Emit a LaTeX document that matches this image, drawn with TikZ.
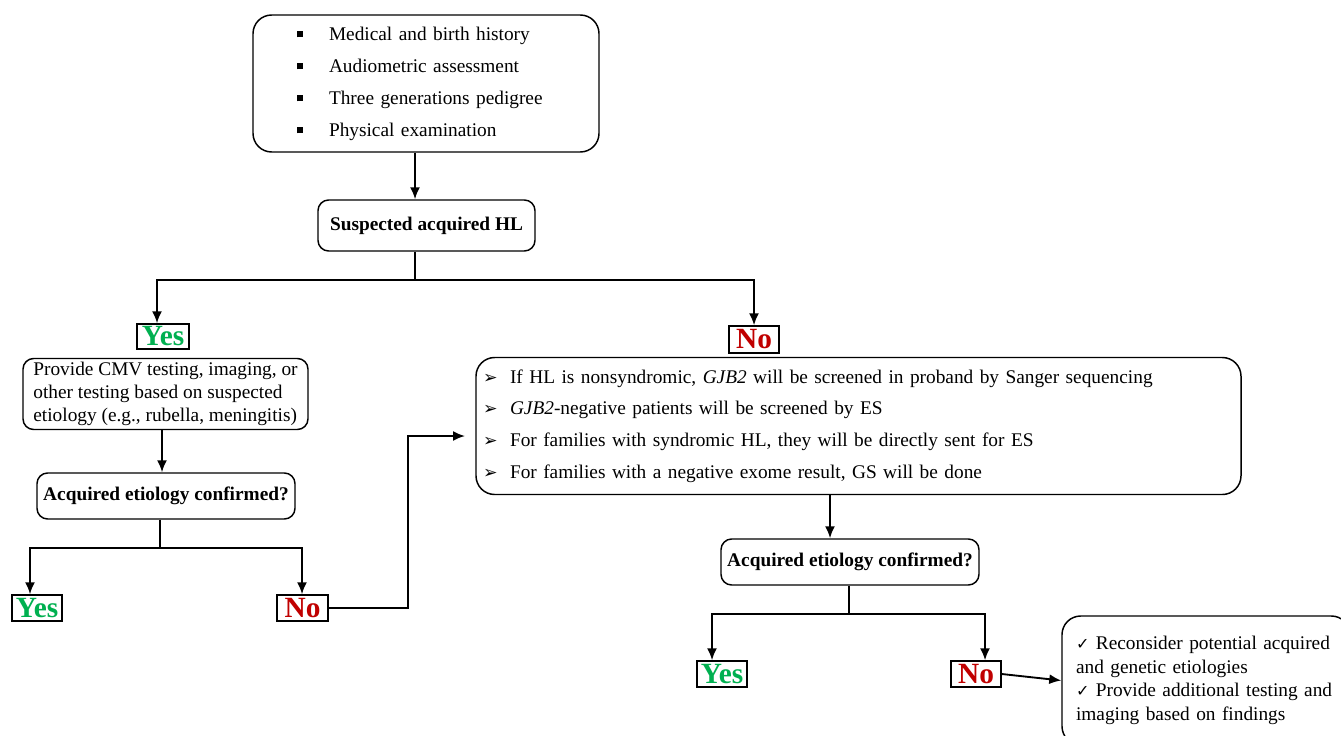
\documentclass[tikz,border=0pt]{standalone}
\usepackage{fontspec}
\setmainfont{Liberation Serif}
\newfontfamily\symfont{DejaVu Sans}
\usetikzlibrary{arrows.meta,calc}
\definecolor{yesgreen}{RGB}{0,176,80}
\definecolor{nored}{RGB}{192,0,0}
\newcommand{\sqbul}{\makebox[24pt][l]{\rule[2pt]{4.5pt}{4.5pt}}}
\newcommand{\arrbul}{\makebox[20.25pt][l]{\symfont\fontsize{13}{13}\selectfont ➢}}
\newcommand{\chk}{{\symfont\fontsize{12}{12}\selectfont ✓}}
\begin{document}
\begin{tikzpicture}[x=0.75pt,y=-0.75pt,
  box/.style={draw, line width=1.1pt, rounded corners=8pt, inner sep=0pt},
  bigbox/.style={box, rounded corners=14pt},
  lab/.style={draw, line width=1.1pt, inner sep=0pt, font=\fontsize{22}{22}\selectfont\bfseries},
  yeslab/.style={lab, text=yesgreen},
  nolab/.style={lab, text=nored},
  arr/.style={line width=1.4pt, -{Latex[length=9pt,width=7.5pt]}},
  ln/.style={line width=1.4pt},
  txt/.style={font=\fontsize{14.5}{24}\selectfont},
  btxt/.style={font=\fontsize{14.5}{17}\selectfont\bfseries}
]
\useasboundingbox (0,0) rectangle (1341,735);
\clip (0,0) rectangle (1341,735);

% nodes
\node[bigbox, txt, align=left, text width=193.5pt, minimum width=259.5pt, minimum height=102.75pt] (top) at (426,83.5)
  {\sqbul Medical and birth history\\ \sqbul Audiometric assessment\\ \sqbul Three generations pedigree\\ \sqbul Physical examination};
\node[box, btxt, minimum width=162.75pt, minimum height=38.25pt] (sus) at (426.5,225.5) {Suspected acquired HL};
\node[yeslab, minimum width=39pt, minimum height=18.75pt] (yes1) at (163,336.5) {Yes};
\node[nolab, minimum width=37.5pt, minimum height=20.25pt] (no1) at (754,339.5) {No};
\node[box, font=\fontsize{14.5}{17.25}\selectfont, align=left, minimum width=213.75pt, minimum height=53.25pt] (cmv) at (165.5,394)
  {Provide CMV testing, imaging, or\\ other testing based on suspected\\ etiology (e.g., rubella, meningitis)};
\node[box, btxt, minimum width=193.5pt, minimum height=34.5pt] (acq1) at (166,496) {Acquired etiology confirmed?};
\node[yeslab, minimum width=37.5pt, minimum height=19.5pt] (yes2) at (37,608) {Yes};
\node[nolab, minimum width=38.25pt, minimum height=19.5pt] (no2) at (302.5,608) {No};
\node[bigbox, font=\fontsize{14.5}{23.8}\selectfont, align=left, text width=563.25pt, minimum width=573.75pt, minimum height=102.75pt] (big) at (858.5,426)
  {\arrbul If HL is nonsyndromic, \textit{GJB2} will be screened in proband by Sanger sequencing\\
   \arrbul \textit{GJB2}-negative patients will be screened by ES\\
   \arrbul For families with syndromic HL, they will be directly sent for ES\\
   \arrbul For families with a negative exome result, GS will be done};
\node[box, btxt, minimum width=193.5pt, minimum height=34.5pt] (acq2) at (850,562) {Acquired etiology confirmed?};
\node[yeslab, minimum width=37.5pt, minimum height=19.5pt] (yes3) at (722,674) {Yes};
\node[nolab, minimum width=37.5pt, minimum height=19.5pt] (no3) at (976,674) {No};
\node[bigbox, font=\fontsize{14.5}{17.8}\selectfont, align=left, text width=195pt, minimum width=216pt, minimum height=96.75pt] (rb) at (1206,680.5)
  {\chk{} Reconsider potential acquired\\ and genetic etiologies\\ \chk{} Provide additional testing and\\ imaging based on findings};

% junction coordinates
\coordinate (c415) at (415,0);
\coordinate (j1) at (415,280);
\coordinate (j1l) at (157,280);
\coordinate (j1r) at (754,280);
\coordinate (c162) at (162,0);
\coordinate (j2) at (160,548);
\coordinate (j2l) at (30,548);
\coordinate (j2r) at (302,548);
\coordinate (k1) at (408,436);
\coordinate (e1) at (465,436);
\coordinate (c830) at (830,0);
\coordinate (j3) at (849,614);
\coordinate (j3l) at (712,614);
\coordinate (j3r) at (985,614);

% connectors
\draw[arr] (top.south -| c415) -- (sus.north -| c415);
\draw[ln] (sus.south -| j1) -- (j1);
\draw[arr] (j1) -- (j1l) -- (yes1.north -| j1l);
\draw[arr] (j1) -- (j1r) -- (no1.north -| j1r);
\draw[arr] (cmv.south -| c162) -- (acq1.north -| c162);
\draw[ln] (acq1.south -| j2) -- (j2);
\draw[arr] (j2) -- (j2l) -- (yes2.north -| j2l);
\draw[arr] (j2) -- (j2r) -- (no2.north -| j2r);
\draw[arr] (no2.east) -| (k1) -- (e1);
\draw[arr] (big.south -| c830) -- (acq2.north -| c830);
\draw[ln] (acq2.south -| j3) -- (j3);
\draw[arr] (j3) -- (j3l) -- (yes3.north -| j3l);
\draw[arr] (j3) -- (j3r) -- (no3.north -| j3r);
\draw[arr] (no3.east) -- (rb.west);
\end{tikzpicture}
\end{document}
